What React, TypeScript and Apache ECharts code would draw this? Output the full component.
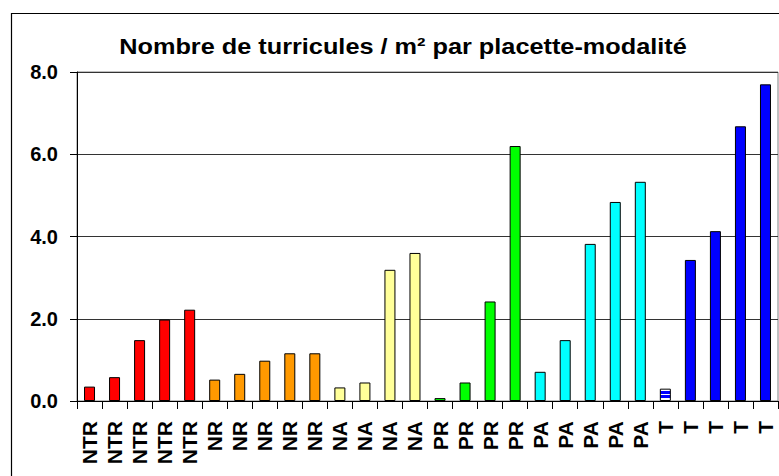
import React, { useEffect, useRef } from "react";
import * as echarts from "echarts";

const categories = [
  "NTR", "NTR", "NTR", "NTR", "NTR",
  "NR", "NR", "NR", "NR", "NR",
  "NA", "NA", "NA", "NA",
  "PR", "PR", "PR", "PR",
  "PA", "PA", "PA", "PA", "PA",
  "T", "T", "T", "T", "T",
];

const values = [
  0.35, 0.58, 1.48, 1.98, 2.22,
  0.52, 0.66, 0.98, 1.16, 1.16,
  0.33, 0.45, 3.19, 3.6,
  0.07, 0.45, 2.42, 6.2,
  0.71, 1.48, 3.82, 4.84, 5.33,
  0.3, 3.43, 4.13, 6.68, 7.7,
];

const groupColors: Record<string, string> = {
  NTR: "#FF0000",
  NR: "#FF9900",
  NA: "#FFFF99",
  PR: "#00FF00",
  PA: "#00FFFF",
  T: "#0000FF",
};

const yTicks = [0, 2, 4, 6, 8];
const titleText = "Nombre de turricules / m² par placette-modalité";

export default function App() {
  const ref = useRef<HTMLDivElement>(null);

  useEffect(() => {
    if (!ref.current) return;
    const chart = echarts.init(ref.current, undefined, { renderer: "svg" });

    const striped = {
      type: "linear",
      x: 0,
      y: 0,
      x2: 0,
      y2: 1,
      colorStops: [
        { offset: 0, color: "#FFFFFF" },
        { offset: 0.18, color: "#FFFFFF" },
        { offset: 0.18, color: "#0000FF" },
        { offset: 0.4, color: "#0000FF" },
        { offset: 0.4, color: "#FFFFFF" },
        { offset: 0.52, color: "#FFFFFF" },
        { offset: 0.52, color: "#0000FF" },
        { offset: 0.78, color: "#0000FF" },
        { offset: 0.78, color: "#FFFFFF" },
        { offset: 1, color: "#FFFFFF" },
      ],
    };

    let firstT = true;
    const data = values.map((v, i) => {
      const cat = categories[i];
      let color: any = groupColors[cat];
      if (cat === "T" && firstT) {
        firstT = false;
        color = striped;
      }
      return { value: v, itemStyle: { color } };
    });

    chart.setOption({
      animation: false,
      backgroundColor: "#FFFFFF",
      textStyle: { fontFamily: "Liberation Sans, Arial, sans-serif" },
      grid: {
        left: 77,
        top: 72,
        right: 1,
        bottom: 75,
        show: true,
        borderColor: "#808080",
        borderWidth: 1,
        containLabel: false,
      },
      graphic: [
        {
          type: "rect",
          shape: { x: 11.5, y: 13.5, width: 820, height: 520 },
          style: { fill: "none", stroke: "#000000", lineWidth: 1.2 },
          silent: true,
          z: 100,
        },
        {
          type: "text",
          x: 403,
          y: 47,
          scaleX: 1.15,
          style: {
            text: titleText,
            fontFamily: "Liberation Sans, Arial, sans-serif",
            fontWeight: "bold",
            fontSize: 22,
            fill: "#000000",
            textAlign: "center",
            textVerticalAlign: "middle",
          },
        },
      ],
      xAxis: {
        type: "category",
        data: categories,
        boundaryGap: true,
        axisLine: { show: true, lineStyle: { color: "#000000", width: 1 } },
        axisTick: {
          show: true,
          alignWithLabel: false,
          length: 8,
          lineStyle: { color: "#000000" },
        },
        axisLabel: {
          interval: 0,
          rotate: 90,
          margin: 20,
          fontSize: 21,
          fontWeight: "bold",
          color: "#000000",
          fontFamily: "Liberation Sans, Arial, sans-serif",
        },
        splitLine: { show: false },
      },
      yAxis: {
        type: "value",
        min: yTicks[0],
        max: yTicks[yTicks.length - 1],
        interval: 2,
        axisLine: { show: true, lineStyle: { color: "#000000", width: 1 } },
        axisTick: { show: true, length: 7, lineStyle: { color: "#000000" } },
        axisLabel: {
          margin: 19,
          fontSize: 20,
          fontWeight: "bold",
          color: "#000000",
          fontFamily: "Liberation Sans, Arial, sans-serif",
          formatter: (v: number) => v.toFixed(1),
        },
        splitLine: { show: true, lineStyle: { color: "#333333", width: 1 } },
      },
      series: [
        {
          type: "bar",
          data,
          barWidth: 11,
          itemStyle: { borderColor: "#000000", borderWidth: 1 },
        },
      ],
    });

    return () => chart.dispose();
  }, []);

  return (
    <div
      ref={ref}
      style={{ position: "fixed", left: 0, top: 0, width: 779, height: 476 }}
    />
  );
}
